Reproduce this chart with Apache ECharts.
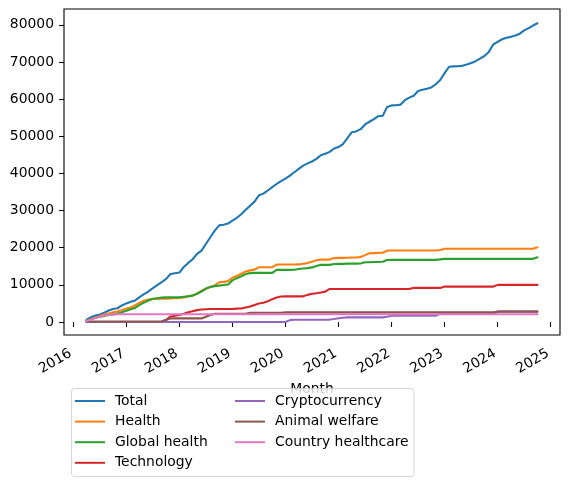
<!DOCTYPE html>
<html><head><meta charset="utf-8">
<script src="https://cdn.jsdelivr.net/npm/echarts@6/dist/echarts.min.js"></script>
<style>html,body{margin:0;padding:0;background:#fff}#c{width:569px;height:486px}</style>
</head><body><div id="c"></div>
<script>
// Categories: months from 2016-04 to 2024-10
const firstYear = 2016, firstMonth = 4, monthCount = 103;
const months = [];
for (let i = 0; i < monthCount; i++) {
  const t = firstYear * 12 + (firstMonth - 1) + i;
  const y = Math.floor(t / 12), m = t % 12 + 1;
  months.push(y + '-' + (m < 10 ? '0' + m : m));
}

const seriesNames = ['Total','Health','Global health','Technology','Cryptocurrency','Animal welfare','Country healthcare'];

const total = [600,1300,1750,2000,2500,3100,3500,3700,4450,5000,
5450,5800,6700,7500,8200,9100,9900,10700,11600,12900,
13100,13300,14800,15900,16900,18350,19200,21000,22800,24600,
26000,26200,26500,27300,28050,29000,30200,31300,32400,34100,
34550,35400,36300,37150,37900,38600,39400,40300,41200,42100,
42700,43200,43900,44900,45300,45800,46700,47100,47900,49500,
51090,51300,51900,53170,53900,54600,55400,55500,57900,58300,
58350,58500,59700,60400,60900,62200,62500,62800,63150,64000,
65130,67000,68700,68800,68850,68950,69300,69700,70200,70900,
71600,72700,74700,75400,76100,76500,76750,77100,77600,78500,
79100,79800,80400];

const health = [350,800,1200,1600,2000,2300,2600,2800,3200,3600,
3900,4500,5200,5700,6050,6200,6250,6300,6300,6350,
6400,6450,6600,6900,7150,7700,8400,8950,9400,9850,
10700,10800,11000,11900,12400,13000,13600,13900,14100,14750,
14750,14750,14750,15450,15470,15470,15470,15470,15500,15700,
15850,16200,16600,16800,16800,16800,17200,17270,17270,17300,
17350,17400,17500,18000,18500,18550,18600,18650,19200,19240,
19240,19240,19240,19240,19240,19240,19240,19240,19240,19240,
19400,19700,19700,19700,19700,19700,19700,19700,19700,19700,
19700,19700,19700,19700,19700,19700,19700,19700,19700,19700,
19700,19700,20100];

const globalHealth = [400,800,1150,1450,1650,1900,2050,2200,2650,3050,
3450,3800,4600,5200,5800,6250,6400,6550,6640,6640,
6640,6640,6800,6950,7100,7600,8200,9000,9400,9650,
9800,9950,10100,11200,11800,12300,12900,13150,13220,13220,
13220,13220,13220,14030,14030,14030,14030,14050,14250,14400,
14500,14700,15100,15380,15380,15380,15600,15650,15650,15700,
15700,15700,15750,16080,16100,16150,16150,16200,16700,16730,
16730,16730,16730,16730,16730,16730,16730,16730,16730,16730,
16850,17000,17000,17000,17000,17000,17000,17000,17000,17000,
17000,17000,17000,17000,17000,17000,17000,17000,17000,17000,
17000,17000,17400];

const technology = [0,0,0,0,0,0,0,0,0,0,
0,0,0,0,0,0,0,0,500,1500,
1700,1900,2200,2600,2900,3200,3350,3450,3510,3510,
3510,3510,3510,3510,3600,3650,3900,4150,4600,5000,
5200,5600,6150,6600,6850,6910,6910,6910,6910,6910,
7300,7600,7720,7950,8180,8900,8900,8900,8900,8900,
8900,8900,8900,8900,8900,8900,8900,8900,8900,8900,
8900,8900,8900,8900,9180,9180,9180,9180,9180,9180,
9180,9530,9530,9530,9530,9530,9530,9530,9530,9530,
9530,9530,9530,9990,9990,9990,9990,9990,9990,9990,
9990,9990,9990];

const cryptocurrency = [0,0,0,0,0,0,0,0,0,0,
0,0,0,0,0,0,0,0,0,0,
0,0,0,0,0,0,0,0,0,0,
0,0,0,0,0,0,0,0,0,0,
0,0,0,0,0,0,500,620,620,620,
620,620,620,620,620,650,800,1000,1150,1240,
1240,1240,1240,1240,1240,1240,1240,1240,1400,1700,
1700,1700,1700,1700,1700,1700,1700,1700,1700,1700,
2200,2350,2350,2350,2350,2350,2350,2350,2350,2350,
2350,2350,2350,2850,2850,2850,2850,2850,2850,2850,
2850,2850,2850];

const animalWelfare = [150,150,150,150,150,150,150,150,150,150,
150,150,150,150,150,150,150,200,600,970,
970,970,970,970,970,970,970,1400,1900,2200,
2200,2200,2200,2200,2200,2200,2200,2450,2500,2500,
2500,2500,2500,2500,2500,2600,2600,2600,2600,2600,
2600,2600,2600,2600,2600,2600,2600,2600,2600,2600,
2600,2600,2600,2600,2600,2600,2600,2600,2600,2600,
2600,2600,2600,2600,2600,2600,2600,2600,2600,2600,
2600,2600,2600,2600,2600,2600,2600,2600,2600,2600,
2600,2600,2600,2750,2750,2750,2750,2750,2750,2750,
2750,2750,2750];

const countryHealthcare = [300,700,1100,1450,1750,1950,2050,2100,2100,2100,
2100,2100,2100,2100,2100,2100,2100,2100,2100,2100,
2100,2100,2100,2100,2100,2100,2100,2100,2100,2100,
2100,2100,2100,2100,2100,2100,2100,2100,2100,2100,
2100,2100,2100,2100,2100,2100,2100,2100,2100,2100,
2100,2100,2100,2100,2100,2100,2100,2100,2100,2100,
2100,2100,2100,2100,2100,2100,2100,2100,2100,2100,
2100,2100,2100,2100,2100,2100,2100,2100,2100,2100,
2100,2100,2100,2100,2100,2100,2100,2100,2100,2100,
2100,2100,2100,2100,2100,2100,2100,2100,2100,2100,
2100,2100,2100];

const yearTicks = [2016,2017,2018,2019,2020,2021,2022,2023,2024,2025];
const valueTicks = [0,10000,20000,30000,40000,50000,60000,70000,80000];

// ---- rendering ----
const allValues = [total, health, globalHealth, technology, cryptocurrency, animalWelfare, countryHealthcare];
const colors = ['#1f77b4','#ff7f0e','#2ca02c','#d62728','#9467bd','#8c564b','#e377c2'];
const FONT = 'DejaVu Sans';
const FS = 13.9;

function monthToX(s) {
  const [y, m] = s.split('-').map(Number);
  return y + (m - 1) / 12;
}
const xs = months.map(monthToX);

const series = seriesNames.map((name, k) => ({
  name: name,
  type: 'line',
  showSymbol: false,
  symbol: 'none',
  color: colors[k],
  lineStyle: { width: 2.1, color: colors[k], cap: 'round', join: 'round' },
  emphasis: { disabled: true },
  data: xs.map((x, i) => [x, allValues[k][i]])
}));

const chart = echarts.init(document.getElementById('c'), null, { renderer: 'canvas' });
const legendCommon = {
  orient: 'vertical',
  icon: 'rect',
  itemWidth: 30,
  itemHeight: 2,
  itemGap: 6.6,
  padding: 0,
  z: 10,
  selectedMode: false,
  textStyle: { fontFamily: FONT, fontSize: FS, color: '#000', lineHeight: 14, padding: [0, 0, 0, 5] }
};
chart.setOption({
  animation: false,
  textStyle: { fontFamily: FONT },
  grid: {
    left: 64, right: 9, top: 9, bottom: 151,
    show: true, borderColor: '#000', borderWidth: 1.1, backgroundColor: 'transparent',
    containLabel: false, outerBoundsMode: 'none'
  },
  xAxis: {
    type: 'value',
    min: 2015.825, max: 2025.175,
    name: 'Month', nameLocation: 'middle', nameGap: 45,
    nameTextStyle: { fontFamily: FONT, fontSize: FS, color: '#000' },
    axisLine: { show: false },
    axisTick: { show: true, customValues: yearTicks, length: 4.9, lineStyle: { color: '#000', width: 1.1 } },
    axisLabel: { customValues: yearTicks, rotate: 30, margin: 16, padding: [0, 3, 0, 0],
      formatter: v => String(v), fontFamily: FONT, fontSize: FS, color: '#000' },
    splitLine: { show: false }
  },
  yAxis: {
    type: 'value',
    min: -3500, max: 84250,
    axisLine: { show: false },
    axisTick: { show: true, customValues: valueTicks, length: 4.9, lineStyle: { color: '#000', width: 1.1 } },
    axisLabel: { customValues: valueTicks, margin: 10, formatter: v => String(v),
      fontFamily: FONT, fontSize: FS, color: '#000' },
    splitLine: { show: false }
  },
  legend: [
    Object.assign({}, legendCommon, { data: seriesNames.slice(0, 4), left: 75, top: 394 }),
    Object.assign({}, legendCommon, { data: seriesNames.slice(4), left: 235, top: 394 })
  ],
  graphic: [{
    type: 'rect', z: 5,
    shape: { x: 71.5, y: 388.5, width: 342.5, height: 88, r: 3 },
    style: { fill: 'rgba(255,255,255,0.8)', stroke: 'rgba(204,204,204,0.8)', lineWidth: 1 }
  }],
  series: series
});
</script>
</body></html>
